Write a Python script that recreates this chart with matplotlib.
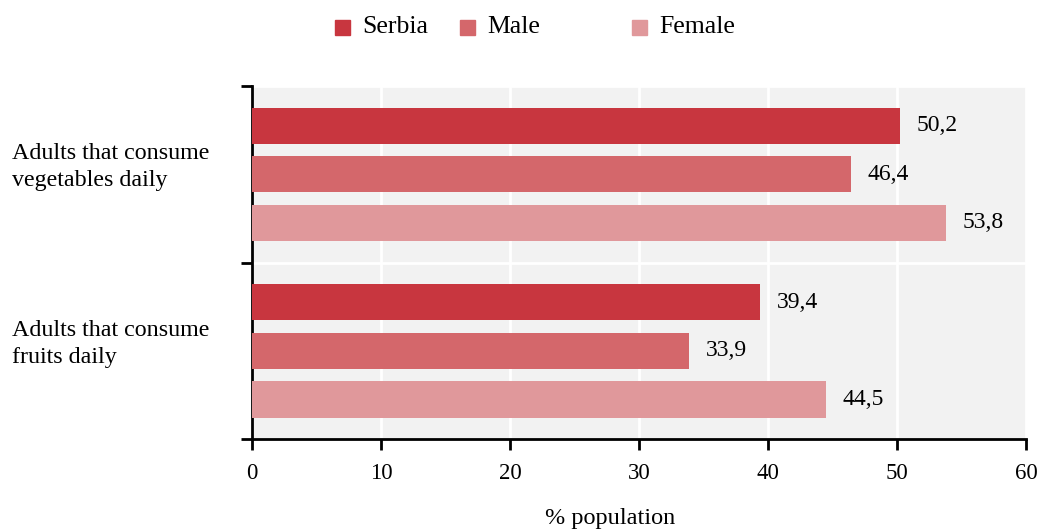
import matplotlib.pyplot as plt
from matplotlib.patches import Rectangle

plt.rcParams['font.family'] = ['Liberation Serif', 'DejaVu Serif']

categories = ["Adults that consume\nvegetables daily", "Adults that consume\nfruits daily"]
series = ["Serbia", "Male", "Female"]
serbia = [50.2, 39.4]
male = [46.4, 33.9]
female = [53.8, 44.5]
colors = ["#c8363f", "#d4676b", "#e0989b"]

fig = plt.figure(figsize=(10.46, 5.31), dpi=100)
ax = fig.add_axes([0.241, 0.173, 0.74, 0.665])
ax.set_facecolor("#f2f2f2")

offsets = [0.225, 0.5, 0.775]
values = [serbia, male, female]
for s, (vals, col, off) in enumerate(zip(values, colors, offsets)):
    for g, v in enumerate(vals):
        y = g + off
        ax.barh(y, v, height=0.205, color=col, zorder=3)
        ax.text(v + 1.3, y, f"{v:.1f}".replace(".", ","), va="center", ha="left",
                fontsize=17, zorder=4)

ax.set_xlim(0, 60)
ax.set_ylim(2, 0)
ax.set_xticks(range(0, 61, 10))
ax.set_yticks([0, 1, 2])
ax.set_yticklabels([])
ax.tick_params(axis="both", labelsize=16.5, width=2, length=8, color="black")
ax.tick_params(axis="x", pad=9)
ax.grid(True, color="white", linewidth=2, zorder=1)
ax.set_axisbelow(True)
for sp in ["top", "right"]:
    ax.spines[sp].set_visible(False)
for sp in ["left", "bottom"]:
    ax.spines[sp].set_linewidth(2)

for g, lab in enumerate(categories):
    ax.text(-0.310, g + 0.46, lab, transform=ax.get_yaxis_transform(),
            ha="left", va="center", fontsize=17.3, linespacing=1.4)

fig.text(0.583, 0.024, "% population", ha="center", va="center", fontsize=17.5)

# legend drawn manually to get the uneven spacing
leg_x = [0.320, 0.440, 0.604]
for x, lab, col in zip(leg_x, series, colors):
    fig.patches.append(Rectangle((x, 0.935), 0.0145, 0.028, transform=fig.transFigure,
                                 color=col, figure=fig))
    fig.text(x + 0.026, 0.949, lab, ha="left", va="center", fontsize=18.5)

fig.savefig("out.png", dpi=100)
